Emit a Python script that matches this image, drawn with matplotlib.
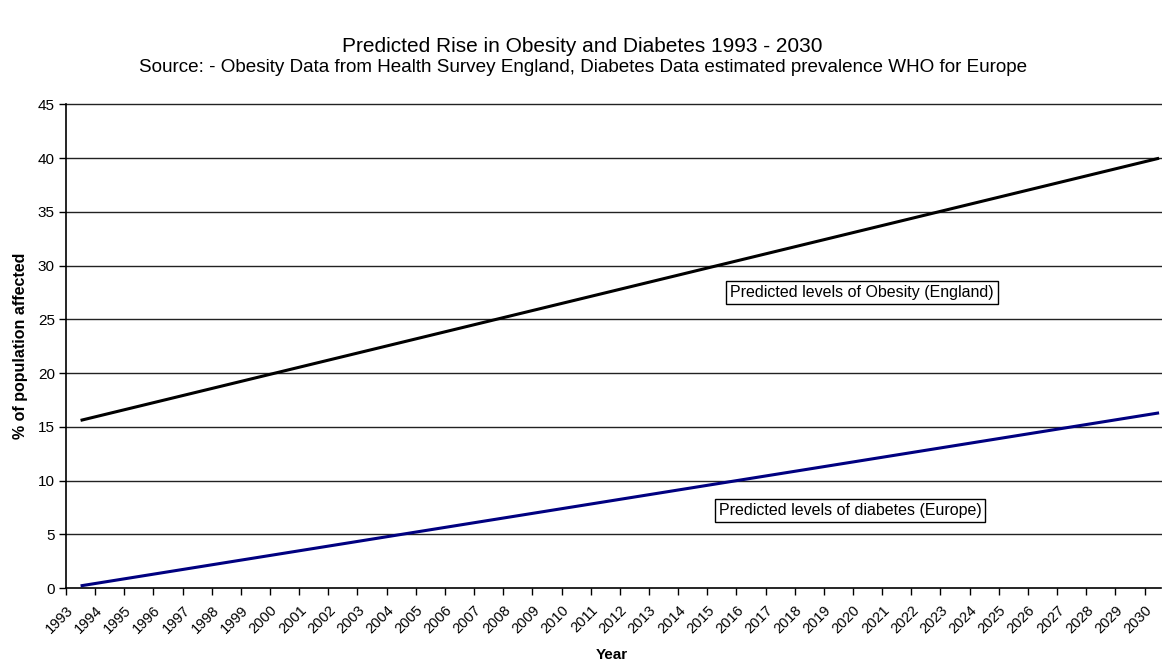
import matplotlib
matplotlib.use("Agg")
import matplotlib.pyplot as plt

plt.rcParams['font.family'] = ['Liberation Sans', 'DejaVu Sans']

years = list(range(1993, 2031))
year_labels = [str(y) for y in years]
line_x = [1993.5, 2030.5]
obesity = [15.6, 40.0]
diabetes = [0.2, 16.3]
yticks = [0, 5, 10, 15, 20, 25, 30, 35, 40, 45]

fig = plt.figure(figsize=(11.62, 6.62), dpi=100)
ax = fig.add_axes([66/1162, 1 - 588/662, 1 - 66/1162 - 0.0005, (588 - 104.5)/662])

for y in yticks[1:]:
    ax.axhline(y, color='#222222', lw=1.0, zorder=1, clip_on=False)

ax.plot(line_x, obesity, color='black', lw=2.2, solid_capstyle='butt', zorder=3)
ax.plot(line_x, diabetes, color='#000080', lw=2.2, solid_capstyle='butt', zorder=3)

ax.set_xlim(1993, 2030.58)
ax.set_ylim(0, 45)
ax.set_yticks(yticks)
ax.set_yticklabels([str(v) for v in yticks], fontsize=11)
ax.set_xticks(years)
ax.set_xticklabels(year_labels, rotation=45, ha='right', va='top',
                   rotation_mode='anchor', fontsize=10.5)
ax.tick_params(axis='both', direction='out', length=5, width=1, color='black', pad=3)
ax.tick_params(axis='x', pad=6)

for s in ['top', 'right']:
    ax.spines[s].set_visible(False)
for s in ['left', 'bottom']:
    ax.spines[s].set_linewidth(1.2)

ax.set_ylabel('% of population affected', fontsize=11.5, fontweight='bold', labelpad=7)
fig.text(612/1162, 1 - 655/662, 'Year', ha='center', va='center', fontsize=11, fontweight='bold')

fig.text(582/1162, 1 - 47/662, 'Predicted Rise in Obesity and Diabetes 1993 - 2030',
         ha='center', va='center', fontsize=15)
fig.text(583/1162, 1 - 68/662,
         'Source: - Obesity Data from Health Survey England, Diabetes Data estimated prevalence WHO for Europe',
         ha='center', va='center', fontsize=13.6)

box = dict(boxstyle='square,pad=0.25', facecolor='white', edgecolor='black', lw=1)
ax.text(2020.3, 27.5, 'Predicted levels of Obesity (England)', ha='center', va='center',
        fontsize=11.5, bbox=box, zorder=4)
ax.text(2019.9, 7.2, 'Predicted levels of diabetes (Europe)', ha='center', va='center',
        fontsize=11.5, bbox=box, zorder=4)

fig.savefig('out.png', dpi=100)
